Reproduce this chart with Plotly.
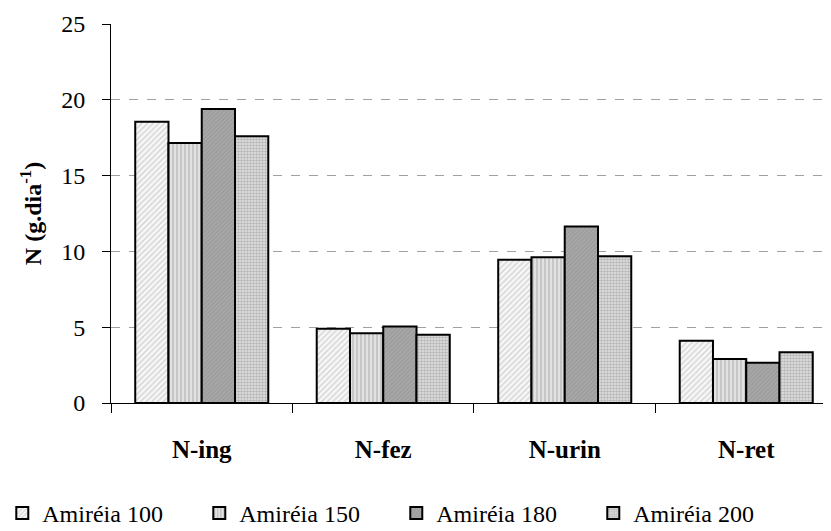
import plotly.graph_objects as go

categories = ["N-ing", "N-fez", "N-urin", "N-ret"]
series_names = ["Amiréia 100", "Amiréia 150", "Amiréia 180", "Amiréia 200"]
amireia_100 = [18.55, 4.9, 9.45, 4.1]
amireia_150 = [17.15, 4.6, 9.62, 2.9]
amireia_180 = [19.4, 5.05, 11.64, 2.65]
amireia_200 = [17.6, 4.5, 9.68, 3.35]
y_ticks = [0, 5, 10, 15, 20, 25]

values = [amireia_100, amireia_150, amireia_180, amireia_200]
styles = [
    dict(bgcolor="#f7f7f7", fgcolor="#b0b0b0", shape="/", size=4, solidity=0.35),
    dict(bgcolor="#e2e2e2", fgcolor="#9a9a9a", shape="|", size=4, solidity=0.4),
    dict(bgcolor="#a8a8a8", fgcolor="#8c8c8c", shape="/", size=3, solidity=0.4),
    dict(bgcolor="#e4e4e4", fgcolor="#8a8a8a", shape=".", size=3, solidity=0.55),
]

FONT = "Liberation Serif"

fig = go.Figure()
for name, vals, st in zip(series_names, values, styles):
    fig.add_trace(go.Bar(
        x=categories, y=vals, name=name,
        marker=dict(color=st["bgcolor"],
                    line=dict(color="black", width=2),
                    pattern=dict(shape=st["shape"], fgcolor=st["fgcolor"],
                                 bgcolor=st["bgcolor"], size=st["size"],
                                 solidity=st["solidity"], fillmode="overlay")),
    ))

# page body has an 8px margin, so the figure is 8px smaller and margins shifted
fig.update_layout(
    width=823, height=523,
    margin=dict(l=103, r=0, t=16, b=128, autoexpand=False),
    paper_bgcolor="white", plot_bgcolor="white",
    barmode="group", bargap=0.267, bargroupgap=0,
    font=dict(family=FONT, color="black", size=24),
    showlegend=True,
    legend=dict(orientation="h", x=-0.151, xanchor="left", y=-0.232, yanchor="top",
                font=dict(family=FONT, size=24, color="black"),
                entrywidth=152, entrywidthmode="pixels",
                itemclick=False, itemdoubleclick=False, traceorder="normal",
                bgcolor="rgba(0,0,0,0)"),
)
fig.update_xaxes(
    type="category", range=[-0.5, 3.467],
    showline=True, linecolor="black", linewidth=1,
    ticks="outside", tickson="boundaries", ticklen=9, tickcolor="black", tickwidth=1,
    tickfont=dict(family=FONT, size=25, color="black", weight="bold"),
    ticklabelstandoff=24,
    showgrid=False, zeroline=False,
)
fig.update_yaxes(
    range=[0, 25], tickvals=y_ticks,
    showline=True, linecolor="black", linewidth=1,
    ticks="outside", ticklen=8, tickcolor="black", tickwidth=1,
    tickfont=dict(family=FONT, size=24, color="black"),
    ticklabelstandoff=12,
    showgrid=True, gridcolor="#a0a0a0", gridwidth=1, griddash="dash",
    zeroline=False,
    title=dict(text="<b>N (g.dia<sup>-1</sup>)</b>", font=dict(family=FONT, size=24, color="black"),
               standoff=12),
)

fig.write_html("out.html")
